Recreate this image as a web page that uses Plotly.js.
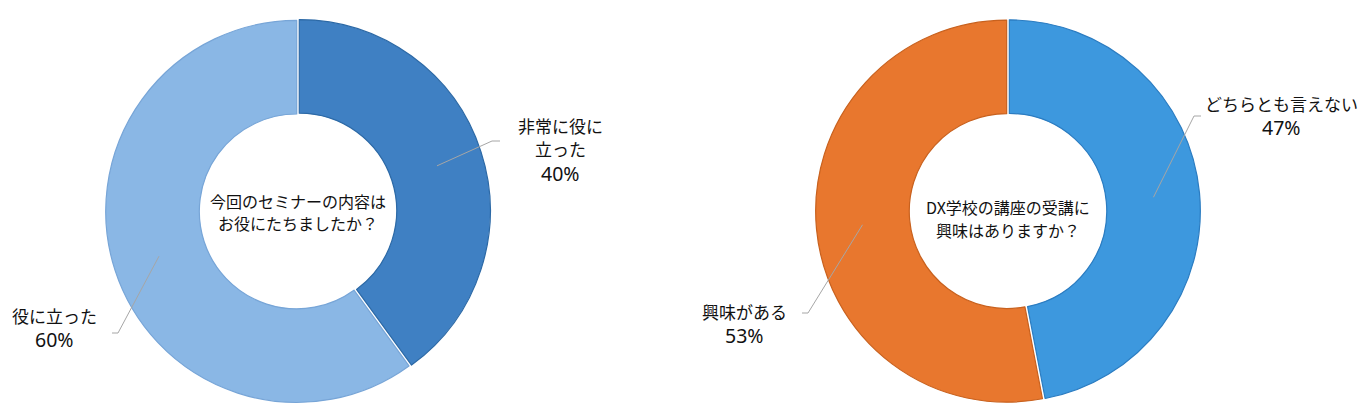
<!DOCTYPE html>
<html>
<head>
<meta charset="utf-8">
<script src="https://cdn.plot.ly/plotly-3.0.1.min.js"></script>
<style>
  html, body { margin: 0; padding: 0; background: #ffffff; }
  #chart { width: 1359px; height: 409px; }
</style>
</head>
<body>
<div id="chart"></div>
<script>
// Survey results: two donut charts
const seminarLabels = ['非常に役に<br>立った', '役に立った'];
const seminarValues = [40, 60];
const seminarQuestion = '今回のセミナーの内容は<br>お役にたちましたか？';

const dxLabels = ['どちらとも言えない', '興味がある'];
const dxValues = [47, 53];
const dxQuestion = 'DX学校の講座の受講に<br>興味はありますか？';

// Page geometry (pixels)
const W = 1359, H = 409;
const R = 191;          // outer radius
const HOLE = 0.51;
const PULL = 0.007;
const FONT = '"Noto Sans CJK JP", "Noto Sans", sans-serif';
const NUM_FONT = '"Noto Sans", "Noto Sans CJK JP", sans-serif';

const donuts = [
  {
    labels: seminarLabels, values: seminarValues, question: seminarQuestion,
    cx: 298, cy: 211, qy: 201, qStep: 21.5,
    fill: ['#3F80C3', '#8AB7E5'],
    edge: ['#2C69A6', '#77A5D7'],
    // first-line centre of each label block and leader elbow/end
    text: [{x: 560, y: 125}, {x: 54, y: 315}],
    elbow: [{x: 492, y: 141, ex: 500}, {x: 118, y: 333, ex: 112}]
  },
  {
    labels: dxLabels, values: dxValues, question: dxQuestion,
    cx: 1008, cy: 211, qy: 207, qStep: 23,
    fill: ['#3D98DE', '#E8772E'],
    edge: ['#2B7CC1', '#C8611E'],
    text: [{x: 1281, y: 103}, {x: 744, y: 311}],
    elbow: [{x: 1194, y: 116, ex: 1201}, {x: 808, y: 313, ex: 802}]
  }
];

const px = x => x / W;
const py = y => 1 - y / H;

const traces = [];
const annotations = [];
const shapes = [];

// one annotation per text line; each line gives its centre y, size and family
function addLine(t, x, y, size, family) {
  annotations.push({
    xref: 'paper', yref: 'paper',
    x: px(x), y: py(y),
    xanchor: 'center', yanchor: 'middle',
    text: t, showarrow: false,
    font: { family: family, size: size, color: '#111111' }
  });
}

donuts.forEach(d => {
  const half = R * (1 + PULL);
  traces.push({
    type: 'pie',
    labels: d.labels,
    values: d.values,
    sort: false,
    direction: 'clockwise',
    rotation: 0,
    hole: HOLE,
    pull: d.values.map(() => PULL),
    textinfo: 'none',
    hoverinfo: 'label+percent',
    showlegend: false,
    marker: { colors: d.fill, line: { color: d.edge, width: 1.2 } },
    domain: {
      x: [px(d.cx - half), px(d.cx + half)],
      y: [py(d.cy + half), py(d.cy - half)]
    }
  });

  // question in the hole
  d.question.split('<br>').forEach((t, j) => addLine(t, d.cx, d.qy + j * d.qStep, 16, FONT));

  // outside labels with leader lines starting at each slice's mid-angle
  const total = d.values.reduce((a, b) => a + b, 0);
  let cum = 0;
  d.values.forEach((v, i) => {
    const mid = (cum + v / 2) / total * 2 * Math.PI;
    cum += v;
    const rMid = R * 0.765;
    const sx = d.cx + rMid * Math.sin(mid);
    const sy = d.cy - rMid * Math.cos(mid);
    const e = d.elbow[i];
    shapes.push({
      type: 'path', xref: 'paper', yref: 'paper',
      path: `M ${px(sx)},${py(sy)} L ${px(e.x)},${py(e.y)} L ${px(e.ex)},${py(e.y)}`,
      line: { color: '#a6a6a6', width: 1 }
    });
    const lines = d.labels[i].split('<br>');
    let y = d.text[i].y;
    lines.forEach((t, j) => {
      if (j > 0) y += 24;
      addLine(t, d.text[i].x, y, 17, FONT);
    });
    addLine(v + '%', d.text[i].x, y + 24.5, 19.5, NUM_FONT);
  });
});

const layout = {
  width: W, height: H,
  margin: { l: 0, r: 0, t: 0, b: 0 },
  paper_bgcolor: '#ffffff',
  plot_bgcolor: '#ffffff',
  font: { family: FONT },
  annotations: annotations,
  shapes: shapes
};

Plotly.newPlot('chart', traces, layout, { displayModeBar: false, staticPlot: true });
</script>
</body>
</html>
